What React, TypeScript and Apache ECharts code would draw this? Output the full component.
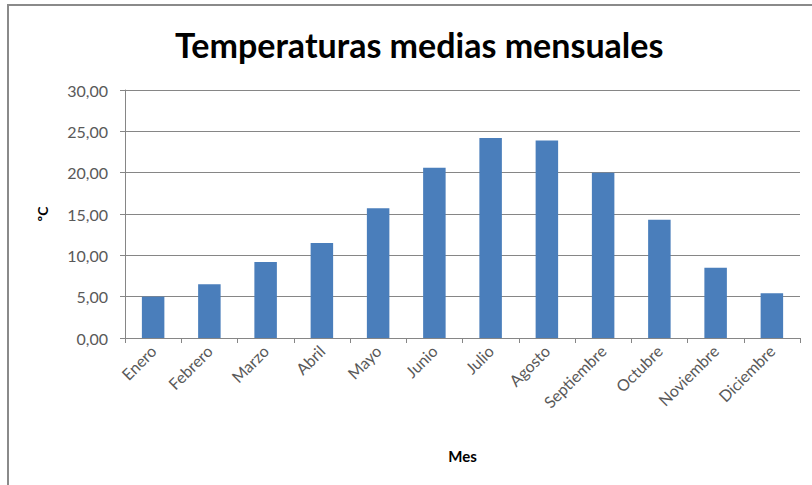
import React, { useEffect, useRef } from "react";
import * as echarts from "echarts";

const months = [
  "Enero", "Febrero", "Marzo", "Abril", "Mayo", "Junio",
  "Julio", "Agosto", "Septiembre", "Octubre", "Noviembre", "Diciembre",
];
const meanTemps = [5.0, 6.5, 9.2, 11.5, 15.7, 20.6, 24.2, 23.9, 20.0, 14.3, 8.5, 5.4];
const yTicks = { min: 0, max: 30, interval: 5 };

const FONT = "Lato, 'Open Sans', sans-serif";
const AXIS_GRAY = "#868686";
const LABEL_GRAY = "#595959";

export default function App() {
  const ref = useRef<HTMLDivElement>(null);

  useEffect(() => {
    if (!ref.current) return;
    const chart = echarts.init(ref.current, undefined, { renderer: "svg" });
    chart.setOption({
      animation: false,
      backgroundColor: "#ffffff",
      title: {
        text: "Temperaturas medias mensuales",
        left: 170,
        top: 22,
        textStyle: { fontFamily: FONT, fontWeight: "bold", fontSize: 34, color: "#000" },
      },
      graphic: [
        { type: "line", shape: { x1: 7, y1: 5, x2: 812, y2: 5 }, style: { stroke: "#8a8a8a", lineWidth: 2 } },
        { type: "line", shape: { x1: 8, y1: 4, x2: 8, y2: 485 }, style: { stroke: "#8a8a8a", lineWidth: 2 } },
      ],
      grid: { left: 125, right: 12, top: 90, bottom: 147 },
      xAxis: {
        type: "category",
        data: months,
        name: "Mes",
        nameLocation: "middle",
        nameGap: 110,
        nameTextStyle: { fontFamily: FONT, fontWeight: "bold", fontSize: 15, color: "#000" },
        axisLine: { lineStyle: { color: AXIS_GRAY } },
        axisTick: { show: true, length: 5, lineStyle: { color: AXIS_GRAY } },
        axisLabel: { rotate: 45, fontFamily: FONT, fontSize: 16, color: LABEL_GRAY, margin: 10 },
      },
      yAxis: {
        type: "value",
        min: yTicks.min,
        max: yTicks.max,
        interval: yTicks.interval,
        name: "ºC",
        nameLocation: "middle",
        nameRotate: 90,
        nameGap: 76,
        nameTextStyle: { fontFamily: FONT, fontWeight: "bold", fontSize: 14, color: "#000" },
        axisLine: { show: true, lineStyle: { color: AXIS_GRAY } },
        axisTick: { show: true, length: 5, lineStyle: { color: AXIS_GRAY } },
        splitLine: { lineStyle: { color: AXIS_GRAY, width: 1 } },
        axisLabel: {
          fontFamily: FONT,
          fontSize: 16,
          color: LABEL_GRAY,
          margin: 17,
          formatter: (v: number) => v.toFixed(2).replace(".", ","),
        },
      },
      series: [
        {
          type: "bar",
          data: meanTemps,
          barWidth: "40%",
          itemStyle: { color: "#4A7EBB" },
        },
      ],
    });
    return () => chart.dispose();
  }, []);

  return (
    <div
      ref={ref}
      style={{ position: "fixed", left: 0, top: 0, width: 812, height: 485 }}
    />
  );
}
